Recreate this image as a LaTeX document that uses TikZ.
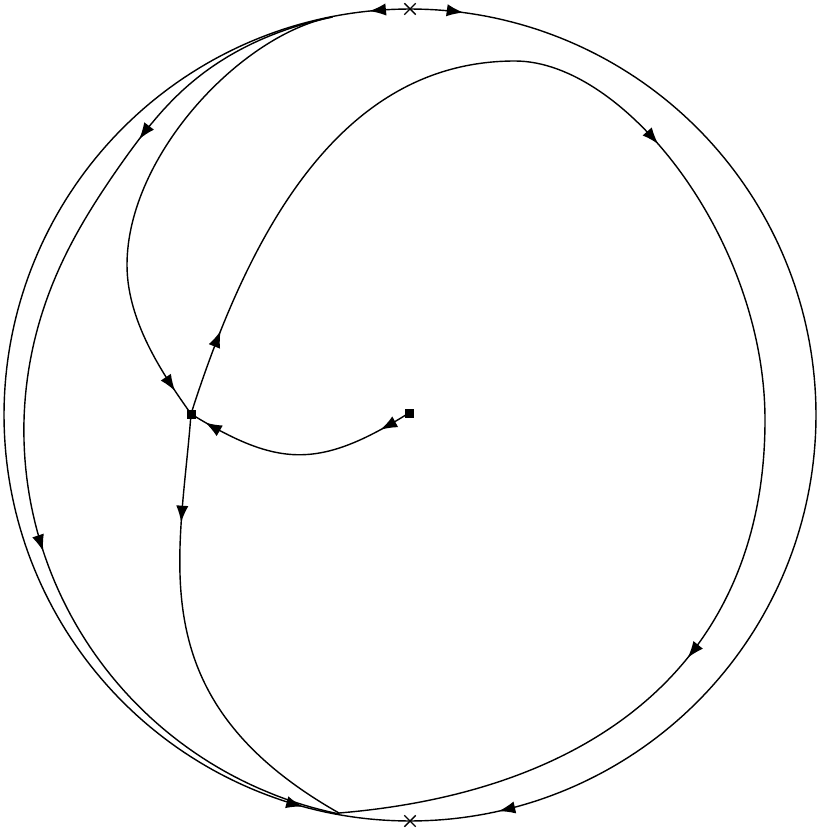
\documentclass[tikz,border=0pt]{standalone}
\usetikzlibrary{arrows.meta,decorations.markings,shapes.misc}
\tikzset{
  arr/.style={postaction={decorate,decoration={markings,
      mark=at position #1 with {\arrow{Latex[length=9.5pt,width=7pt]}}}}},
  infpt/.style={cross out,draw,minimum size=2mm,inner sep=0pt,line width=0.8pt},
  eqpt/.style={rectangle,fill,minimum size=1.8mm,inner sep=0pt}
}
\begin{document}
\begin{tikzpicture}[x=0.02cm,y=-0.02cm,line width=0.8pt,
    declare function={lgap(\p)=30*((175-\p)/120)^1.15/(1+exp(-(\p-42)/7));}]
  \useasboundingbox (0,0) rectangle (821,831);
  \node[infpt] (inftop) at (410,9) {};
  \node[infpt] (infbot) at (410,821) {};
  \node[eqpt] (saddle) at (191,414) {};
  \node[eqpt] (focus) at (409,413) {};
  \coordinate (fork) at (332,17);
  \coordinate (merge) at (339,813);
  \draw[arr=0.032,arr=0.915] plot[domain=-90:90,samples=150] ({410-406*cos(\x)},{415+406*sin(\x)});
  \draw[arr=0.042,arr=0.93] plot[domain=-90:90,samples=150] ({410+406*cos(\x)},{415+406*sin(\x)});
  \draw[arr=0.215,arr=0.62] plot[domain=11:170,samples=120]
    ({410-(406-lgap(\x))*sin(\x)},{415-(406-lgap(\x))*cos(\x)});
  \draw[arr=0.945] (fork) .. controls (242,34) and (127,155) .. (127,265)
    .. controls (127,325) and (168,381) .. (saddle.center);
  \draw[arr=0.054,arr=0.419,arr=0.76] (saddle.center) .. controls (252,223) and (345,61) .. (515,61)
    .. controls (625,61) and (765,240) .. (765,420)
    .. controls (765,655) and (603,791) .. (merge);
  \draw[arr=0.235] (saddle.center) .. controls (180,560) and (138,699) .. (merge);
  \draw[arr=0.14,arr=0.93] (focus.center) .. controls (318,470) and (278,467) .. (saddle.center);
\end{tikzpicture}
\end{document}
